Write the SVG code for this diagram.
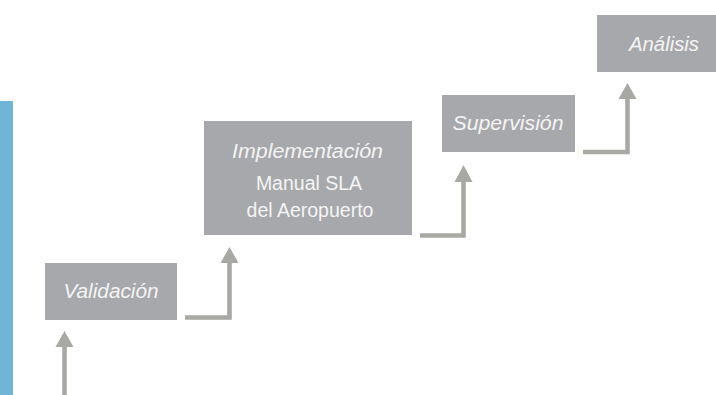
<svg xmlns="http://www.w3.org/2000/svg" width="716" height="395" viewBox="0 0 716 395">
<style>
.box{fill:#a7a8ab}
.t{font-family:"Liberation Sans",Arial,sans-serif;font-size:20.5px;fill:#f4f4f4;text-anchor:middle}
.s{font-size:19.5px}
.i{font-style:italic}
.ln{fill:none;stroke:#a8a9a2;stroke-width:4.6}
.hd{fill:#a8a9a2}
</style>
<rect x="0" y="101" width="13" height="294" fill="#6fb5d8"/>
<g id="connectors">
<path class="ln" d="M64.5,395 V346"/>
<polygon class="hd" points="55.5,347 73.5,347 64.5,331"/>
<path class="ln" d="M185,317.5 H229.5 V262"/>
<polygon class="hd" points="220.5,263 238.5,263 229.5,247"/>
<path class="ln" d="M420,235.5 H463.5 V181"/>
<polygon class="hd" points="454.5,182 472.5,182 463.5,165"/>
<path class="ln" d="M583,152 H627.5 V98"/>
<polygon class="hd" points="618.5,99 636.5,99 627.5,83"/>
</g>
<g id="validacion">
<rect class="box" x="45" y="263" width="132" height="57"/>
<text class="t i" x="111" y="298" textLength="95" lengthAdjust="spacingAndGlyphs">Validación</text>
</g>
<g id="implementacion">
<rect class="box" x="204" y="121" width="208" height="114"/>
<text class="t i" x="307.5" y="158" textLength="151" lengthAdjust="spacingAndGlyphs">Implementación</text>
<text class="t s" x="309" y="190">Manual SLA</text>
<text class="t s" x="310" y="217">del Aeropuerto</text>
</g>
<g id="supervision">
<rect class="box" x="442" y="95" width="133" height="57"/>
<text class="t i" x="508" y="130" textLength="111" lengthAdjust="spacingAndGlyphs">Supervisión</text>
</g>
<g id="analisis">
<rect class="box" x="597" y="15" width="133" height="57"/>
<text class="t i" x="664" y="51" textLength="70" lengthAdjust="spacingAndGlyphs">Análisis</text>
</g>
</svg>
